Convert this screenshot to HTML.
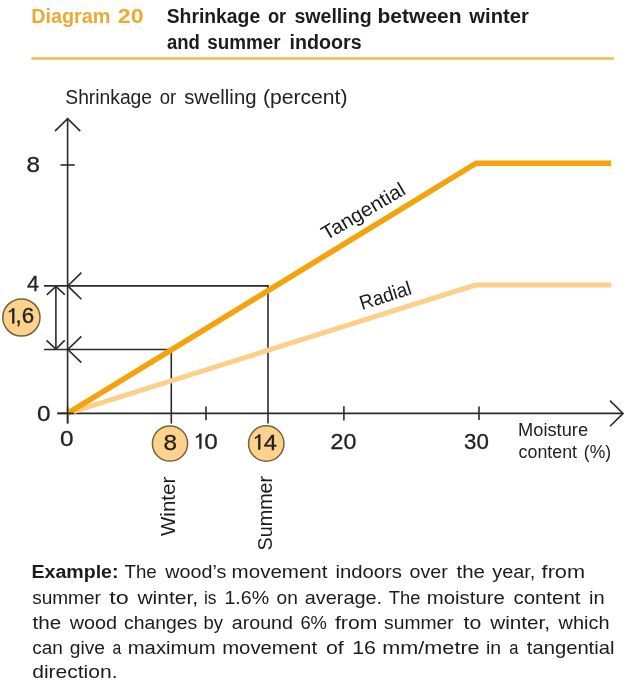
<!DOCTYPE html>
<html>
<head>
<meta charset="utf-8">
<title>Diagram 20</title>
<style>
  html, body { margin: 0; padding: 0; background: #ffffff; }
  body { width: 628px; height: 680px; overflow: hidden; font-family: "Liberation Sans", sans-serif; }
  svg { display: block; will-change: transform; }
  text { font-family: "Liberation Sans", sans-serif; }
  .ttl { font-weight: bold; font-size: 18px; }
  .para { font-size: 18px; }
  .ax { font-size: 22.3px; fill: #222; stroke: #222; stroke-width: 0.3; }
  .lbl { font-size: 20px; fill: #1a1a1a; }
  .blk { stroke: #2b2b2b; stroke-width: 1.6; fill: none; }
</style>
</head>
<body>
<svg width="628" height="680" viewBox="0 0 628 680">
  <rect x="0" y="0" width="628" height="680" fill="#ffffff"/>

  <!-- Title rule -->
  <rect x="31.4" y="57.3" width="582.6" height="2.4" fill="#f0b844"/>

  <!-- Axes -->
  <g class="blk">
    <line x1="67.6" y1="118.8" x2="67.6" y2="423.4"/>
    <polyline points="55,131.1 67.6,118.6 80.3,131.1"/>
    <line x1="57.4" y1="413.4" x2="622.6" y2="413.4"/>
    <polyline points="610,400.6 623.1,413.4 610,426.2"/>
    <!-- y ticks -->
    <line x1="60.5" y1="165" x2="74.8" y2="165"/>
    <!-- x ticks -->
    <line x1="206" y1="406.4" x2="206" y2="420.2"/>
    <line x1="343.9" y1="406.3" x2="343.9" y2="420.5"/>
    <line x1="479" y1="406.6" x2="479" y2="420"/>
    <!-- reference lines -->
    <line x1="44" y1="285.9" x2="268.8" y2="285.9"/>
    <line x1="268" y1="285.9" x2="268" y2="423.6"/>
    <line x1="44" y1="349.5" x2="172.1" y2="349.5"/>
    <line x1="171.3" y1="349.5" x2="171.3" y2="423.6"/>
    <!-- arrows at y axis -->
    <polyline points="81.4,272.6 67.8,285.9 81.4,299.2"/>
    <polyline points="81.4,336.4 67.8,349.5 81.4,362.6"/>
    <!-- dimension arrow -->
    <line x1="55.9" y1="286" x2="55.9" y2="349.4"/>
    <polyline points="46.8,294.9 55.9,286.3 64.8,294.7"/>
    <polyline points="46.5,340.4 55.9,349.1 64.7,340.4"/>
  </g>

  <!-- Curves -->
  <polyline points="67.6,413.4 475.3,285.1 611.2,285.1" fill="none" stroke="#fcd089" stroke-width="5" stroke-linejoin="miter"/>
  <polyline points="67.6,413.4 476.1,163.2 611.2,163.2" fill="none" stroke="#f4a30c" stroke-width="5.6" stroke-linejoin="miter"/>

  <!-- origin cross drawn over the curves -->
  <g class="blk"><line x1="67.6" y1="407" x2="67.6" y2="423.4"/><line x1="57.4" y1="413.4" x2="74" y2="413.4"/></g>

  <!-- Curve labels -->
  <text class="lbl" transform="translate(326.3,240.8) rotate(-30.4)" textLength="93.4" lengthAdjust="spacingAndGlyphs">Tangential</text>
  <text class="lbl" transform="translate(362,310) rotate(-17.6)" textLength="53.3" lengthAdjust="spacingAndGlyphs">Radial</text>

  <!-- Axis numbers -->
  <g class="ax">
  <text transform="translate(33.2,172) scale(1.09,1)" text-anchor="middle">8</text>
  <text transform="translate(33,291) scale(0.97,1)" text-anchor="middle">4</text>
  <text transform="translate(43.8,421) scale(1.09,1)" text-anchor="middle">0</text>
  <text transform="translate(66.7,446.1) scale(1.09,1)" text-anchor="middle">0</text>
  <path d="M196.10,437.50 L200.60,434.50" stroke="#222" stroke-width="1.7" fill="none" stroke-linecap="butt"/><rect x="199.40" y="433.80" width="2" height="15" fill="#222"/>
  <text transform="translate(210.9,449) scale(1.09,1)" text-anchor="middle">0</text>
  <text transform="translate(343.4,448.8) scale(1.04,1)" text-anchor="middle">20</text>
  <text transform="translate(476.5,449.1) scale(1.0,1)" text-anchor="middle">30</text>
  </g>

  <!-- Circles -->
  <g fill="#fcd28c" stroke="#75623f" stroke-width="1.5">
    <circle cx="21.4" cy="317.5" r="18.6"/>
    <circle cx="170" cy="443.5" r="17.6"/>
    <circle cx="266.25" cy="443.5" r="17.7"/>
  </g>
  <g class="ax">
  <path d="M8.90,312.10 L13.40,309.10" stroke="#222" stroke-width="1.7" fill="none" stroke-linecap="butt"/><rect x="12.20" y="308.40" width="2" height="15" fill="#222"/>
  <text transform="translate(18.6,323.4) scale(1.0,1)" text-anchor="middle">,</text>
  <text transform="translate(27.95,323.4) scale(1.0,1)" text-anchor="middle">6</text>
  <text transform="translate(170.2,449.7) scale(1.09,1)" text-anchor="middle">8</text>
  <path d="M254.90,438.40 L259.40,435.40" stroke="#222" stroke-width="1.7" fill="none" stroke-linecap="butt"/><rect x="258.20" y="434.70" width="2" height="15" fill="#222"/>
  <text transform="translate(270.4,449.8) scale(1.06,1)" text-anchor="middle">4</text>
  </g>

  <!-- Rotated labels -->
  <text transform="translate(174.5,536) rotate(-90)" style="font-size:19.6px;fill:#1c1c1c" textLength="59.3" lengthAdjust="spacingAndGlyphs">Winter</text>
  <text transform="translate(272,550.5) rotate(-90)" style="font-size:19.6px;fill:#1c1c1c" textLength="74.7" lengthAdjust="spacingAndGlyphs">Summer</text>

  <!-- Text (word-fitted) -->
  <g id="words">
  <text transform="translate(31.18,22.7) scale(1.0216,1)" font-size="19.4" font-weight="bold" fill="#f0a835">Diagram</text>
  <text transform="translate(117.80,22.7) scale(1.1980,1)" font-size="19.4" font-weight="bold" fill="#f0a835">20</text>
  <text transform="translate(166.70,22.7) scale(0.9971,1)" font-size="19.4" font-weight="bold" fill="#1c1c1c">Shrinkage</text>
  <text transform="translate(267.90,22.7) scale(0.9423,1)" font-size="19.4" font-weight="bold" fill="#1c1c1c">or</text>
  <text transform="translate(294.40,22.7) scale(1.0098,1)" font-size="19.4" font-weight="bold" fill="#1c1c1c">swelling</text>
  <text transform="translate(377.52,22.7) scale(1.0840,1)" font-size="19.4" font-weight="bold" fill="#1c1c1c">between</text>
  <text transform="translate(469.34,22.7) scale(1.0417,1)" font-size="19.4" font-weight="bold" fill="#1c1c1c">winter</text>
  <text transform="translate(166.90,48.8) scale(0.9545,1)" font-size="19.4" font-weight="bold" fill="#1c1c1c">and</text>
  <text transform="translate(207.20,48.8) scale(0.9724,1)" font-size="19.4" font-weight="bold" fill="#1c1c1c">summer</text>
  <text transform="translate(289.59,48.8) scale(1.0143,1)" font-size="19.4" font-weight="bold" fill="#1c1c1c">indoors</text>
  <text transform="translate(65.30,104.2) scale(0.9640,1)" font-size="20" fill="#222">Shrinkage</text>
  <text transform="translate(159.80,104.2) scale(0.9270,1)" font-size="20" fill="#222">or</text>
  <text transform="translate(184.20,104.2) scale(1.0169,1)" font-size="20" fill="#222">swelling</text>
  <text transform="translate(262.94,104.2) scale(1.0565,1)" font-size="20" fill="#222">(percent)</text>
  <text transform="translate(518.06,435.8) scale(1.0433,1)" font-size="17.5" fill="#222">Moisture</text>
  <text transform="translate(518.60,457.6) scale(1.0184,1)" font-size="17.5" fill="#222">content</text>
  <text transform="translate(583.80,457.6) scale(1.0005,1)" font-size="17.5" fill="#222">(%)</text>
  <text transform="translate(31.47,577.8) scale(1.0310,1)" font-size="19" font-weight="bold" fill="#1c1c1c">Example:</text>
  <text transform="translate(124.50,577.8) scale(0.9853,1)" font-size="19" fill="#1c1c1c">The</text>
  <text transform="translate(165.24,577.8) scale(1.0388,1)" font-size="19" fill="#1c1c1c">wood’s</text>
  <text transform="translate(231.62,577.8) scale(1.0812,1)" font-size="19" fill="#1c1c1c">movement</text>
  <text transform="translate(335.43,577.8) scale(1.0688,1)" font-size="19" fill="#1c1c1c">indoors</text>
  <text transform="translate(409.50,577.8) scale(1.0363,1)" font-size="19" fill="#1c1c1c">over</text>
  <text transform="translate(456.50,577.8) scale(1.0756,1)" font-size="19" fill="#1c1c1c">the</text>
  <text transform="translate(492.30,577.8) scale(1.0448,1)" font-size="19" fill="#1c1c1c">year,</text>
  <text transform="translate(541.60,577.8) scale(1.1433,1)" font-size="19" fill="#1c1c1c">from</text>
  <text transform="translate(32.20,604.2) scale(1.0016,1)" font-size="19" fill="#1c1c1c">summer</text>
  <text transform="translate(109.20,604.2) scale(1.2305,1)" font-size="19" fill="#1c1c1c">to</text>
  <text transform="translate(137.41,604.2) scale(1.1074,1)" font-size="19" fill="#1c1c1c">winter,</text>
  <text transform="translate(203.88,604.2) scale(0.9164,1)" font-size="19" fill="#1c1c1c">is</text>
  <text transform="translate(224.47,604.2) scale(1.0327,1)" font-size="19" fill="#1c1c1c">1.6%</text>
  <text transform="translate(276.50,604.2) scale(1.0065,1)" font-size="19" fill="#1c1c1c">on</text>
  <text transform="translate(304.80,604.2) scale(1.0459,1)" font-size="19" fill="#1c1c1c">average.</text>
  <text transform="translate(388.80,604.2) scale(0.9635,1)" font-size="19" fill="#1c1c1c">The</text>
  <text transform="translate(426.73,604.2) scale(1.0731,1)" font-size="19" fill="#1c1c1c">moisture</text>
  <text transform="translate(513.40,604.2) scale(1.0770,1)" font-size="19" fill="#1c1c1c">content</text>
  <text transform="translate(589.04,604.2) scale(1.0589,1)" font-size="19" fill="#1c1c1c">in</text>
  <text transform="translate(32.50,628.9) scale(1.0872,1)" font-size="19" fill="#1c1c1c">the</text>
  <text transform="translate(69.64,628.9) scale(1.0424,1)" font-size="19" fill="#1c1c1c">wood</text>
  <text transform="translate(124.10,628.9) scale(1.0191,1)" font-size="19" fill="#1c1c1c">changes</text>
  <text transform="translate(203.53,628.9) scale(0.9710,1)" font-size="19" fill="#1c1c1c">by</text>
  <text transform="translate(231.80,628.9) scale(1.0342,1)" font-size="19" fill="#1c1c1c">around</text>
  <text transform="translate(300.40,628.9) scale(0.9649,1)" font-size="19" fill="#1c1c1c">6%</text>
  <text transform="translate(335.00,628.9) scale(1.1137,1)" font-size="19" fill="#1c1c1c">from</text>
  <text transform="translate(384.00,628.9) scale(1.0160,1)" font-size="19" fill="#1c1c1c">summer</text>
  <text transform="translate(463.50,628.9) scale(1.1192,1)" font-size="19" fill="#1c1c1c">to</text>
  <text transform="translate(490.19,628.9) scale(1.0909,1)" font-size="19" fill="#1c1c1c">winter,</text>
  <text transform="translate(558.55,628.9) scale(1.0488,1)" font-size="19" fill="#1c1c1c">which</text>
  <text transform="translate(32.20,653.6) scale(0.9978,1)" font-size="19" fill="#1c1c1c">can</text>
  <text transform="translate(69.70,653.6) scale(1.0120,1)" font-size="19" fill="#1c1c1c">give</text>
  <text transform="translate(112.40,653.6) scale(0.8273,1)" font-size="19" fill="#1c1c1c">a</text>
  <text transform="translate(127.73,653.6) scale(1.0682,1)" font-size="19" fill="#1c1c1c">maximum</text>
  <text transform="translate(222.13,653.6) scale(1.0710,1)" font-size="19" fill="#1c1c1c">movement</text>
  <text transform="translate(325.90,653.6) scale(1.1227,1)" font-size="19" fill="#1c1c1c">of</text>
  <text transform="translate(352.18,653.6) scale(1.1243,1)" font-size="19" fill="#1c1c1c">16</text>
  <text transform="translate(382.36,653.6) scale(1.1378,1)" font-size="19" fill="#1c1c1c">mm/metre</text>
  <text transform="translate(485.98,653.6) scale(1.0211,1)" font-size="19" fill="#1c1c1c">in</text>
  <text transform="translate(509.30,653.6) scale(0.8727,1)" font-size="19" fill="#1c1c1c">a</text>
  <text transform="translate(526.80,653.6) scale(1.0643,1)" font-size="19" fill="#1c1c1c">tangential</text>
  <text transform="translate(32.20,678.2) scale(1.1079,1)" font-size="19" fill="#1c1c1c">direction.</text>
  </g>
</svg>
</body>
</html>
